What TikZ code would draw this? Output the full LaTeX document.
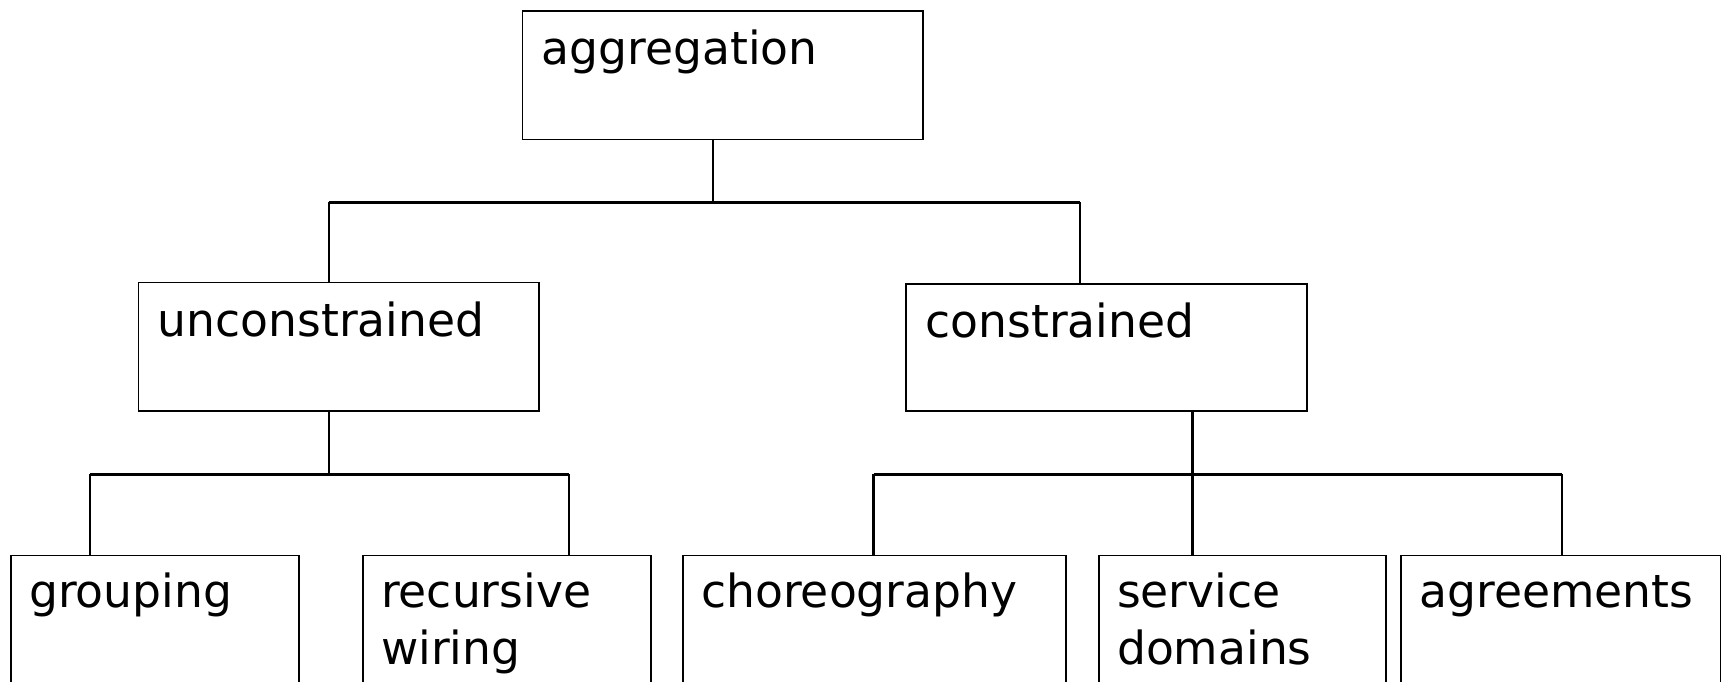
\documentclass[tikz,border=0pt]{standalone}
\usepackage{fontspec}
\setmainfont{DejaVu Sans}
\begin{document}
\begin{tikzpicture}[x=1pt,y=-1pt,
  box/.style={draw=black, line width=1.8pt, anchor=north west, inner sep=0pt, minimum width=#1},
  lbl/.style={anchor=base west, inner sep=0pt, align=left, font=\fontsize{45.6}{57}\selectfont},
  stem/.style={line width=2.2pt},
  bar/.style={line width=3pt}]
\useasboundingbox (0,0) rectangle (1725,681);
\clip (0,0) rectangle (1725,681);
% boxes
\node[box=400.4pt, minimum height=128.7pt] (agg) at (521.5,9.9) {};
\node[box=400.5pt, minimum height=128.7pt] (unc) at (137.5,281.6) {};
\node[box=400.5pt, minimum height=127.6pt] (con) at (905.4,282.7) {};
\node[box=288.2pt, minimum height=160pt] (grp) at (9.9,554.5) {};
\node[box=288.3pt, minimum height=160pt] (rec) at (361.9,554.5) {};
\node[box=382.8pt, minimum height=160pt] (cho) at (682.1,554.5) {};
\node[box=287.2pt, minimum height=160pt] (svc) at (1097.9,554.5) {};
\node[box=319.1pt, minimum height=160pt] (agr) at (1400.4,554.5) {};
% labels (base anchor sits on the last line)
\node[lbl] (tagg) at ([xshift=20pt,yshift=-55pt]agg.north west) {aggregation};
\node[lbl] (tunc) at ([xshift=20pt,yshift=-55pt]unc.north west) {unconstrained};
\node[lbl] (tcon) at ([xshift=20pt,yshift=-55pt]con.north west) {constrained};
\node[lbl] (tgrp) at ([xshift=19pt,yshift=-53pt]grp.north west) {grouping};
\node[lbl] (trec) at ([xshift=19pt,yshift=-110pt]rec.north west) {recursive\\wiring};
\node[lbl] (tcho) at ([xshift=19pt,yshift=-53pt]cho.north west) {choreography};
\node[lbl] (tsvc) at ([xshift=19pt,yshift=-110pt]svc.north west) {service\\domains};
\node[lbl] (tagr) at ([xshift=19pt,yshift=-53pt]agr.north west) {agreements};
% junction points
\coordinate (ja) at (712.9,202.4);
\coordinate (la) at (328.9,202.4);
\coordinate (ra) at (1080.3,202.4);
\coordinate (ju) at (328.9,474.2);
\coordinate (lu) at (90.2,474.2);
\coordinate (ru) at (568.8,474.2);
\coordinate (jc) at (1192.5,474.2);
\coordinate (lc) at (873.5,474.2);
\coordinate (rc) at (1562.2,474.2);
% first level
\draw[stem] (ja |- agg.south) -- (ja);
\draw[bar] (la) -- (ra);
\draw[stem] (la) -- (la |- unc.north);
\draw[stem] (ra) -- (ra |- con.north);
% unconstrained branch
\draw[stem] (ju |- unc.south) -- (ju);
\draw[bar] (lu) -- (ru);
\draw[stem] (lu) -- (lu |- grp.north);
\draw[stem] (ru) -- (ru |- rec.north);
% constrained branch
\draw[stem] (jc |- con.south) -- (jc |- svc.north);
\draw[bar] (lc) -- (rc);
\draw[stem] (lc) -- (lc |- cho.north);
\draw[stem] (rc) -- (rc |- agr.north);
\end{tikzpicture}
\end{document}
